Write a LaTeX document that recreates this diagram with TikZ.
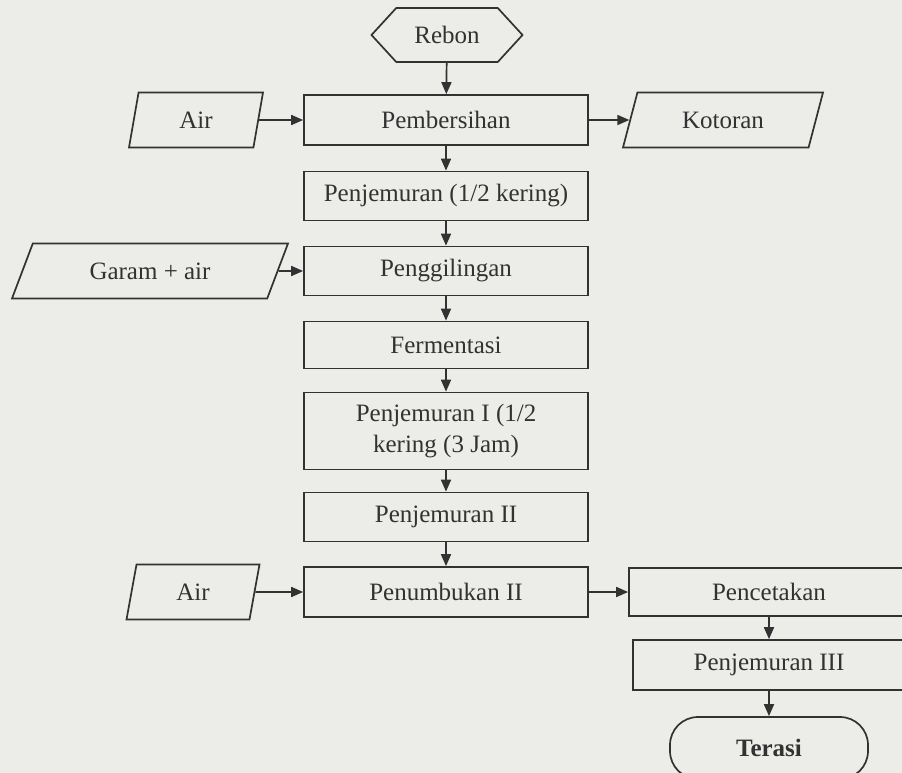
\documentclass[tikz,border=0pt]{standalone}
\usepackage{fontspec}
\setmainfont{Liberation Serif}
\usetikzlibrary{shapes.geometric,shapes.symbols,arrows.meta}
\definecolor{kertas}{RGB}{236,236,233}
\definecolor{tinta}{RGB}{50,50,50}
\tikzset{
  garis/.style={draw=tinta,line width=1.7pt},
  kotak/.style={garis,minimum width=284pt,minimum height=#1,inner sep=2pt,align=center},
  kotak/.default=49pt,
  jajar/.style={garis,trapezium,trapezium stretches body,minimum height=55pt,inner sep=2pt},
  hexa/.style={garis,signal,signal to=west and east,signal pointer angle=95,minimum width=151pt,minimum height=54pt,inner sep=2pt},
  ujung/.style={garis,rounded corners=28pt,minimum width=198pt,minimum height=62pt,font=\fontsize{25}{31}\selectfont\bfseries}
}
\begin{document}
\begin{tikzpicture}[x=1pt,y=-1pt,>={Triangle[length=12pt,width=10pt]},
  every node/.style={text=tinta,font=\fontsize{25}{31}\selectfont}]
	\fill[kertas] (0,0) rectangle (902,773);
	\clip (0,0) rectangle (902,773);
	%Bahan baku
	\node[hexa] (rebon) at (447,35) {Rebon};
	%Proses utama
	\node[kotak=50pt] (bersih) at (446,120) {Pembersihan};
	\node[kotak] (jemur) at (446,196) {Penjemuran (1/2 kering)};
	\node[kotak] (giling) at (446,271) {Penggilingan};
	\node[kotak=47pt] (fermen) at (446,345) {Fermentasi};
	\node[kotak=77pt] (jemurI) at (446,431) {Penjemuran I (1/2\\kering (3 Jam)};
	\node[kotak] (jemurII) at (446,517) {Penjemuran II};
	\node[kotak=50pt] (tumbuk) at (446,592) {Penumbukan II};
	%Masukan dan keluaran
	\node[jajar,minimum width=134pt,trapezium left angle=65,trapezium right angle=115] (air) at (196,120) {Air};
	\node[jajar,minimum width=200pt,trapezium left angle=55,trapezium right angle=125] (kotoran) at (723,120) {Kotoran};
	\node[jajar,minimum width=276pt,trapezium left angle=45,trapezium right angle=135] (garam) at (150,271) {Garam + air};
	\node[jajar,minimum width=133pt,trapezium left angle=64,trapezium right angle=116] (airII) at (193,592) {Air};
	%Cabang kanan
	\node[kotak=48pt,minimum width=280pt] (cetak) at (769,592) {Pencetakan};
	\node[kotak=50pt,minimum width=272pt] (jemurIII) at (769,665) {Penjemuran III};
	\node[ujung] (terasi) at (769,748) {Terasi};
	%Panah
	\draw[garis,->] (rebon) -- (bersih);
	\draw[garis,->] (bersih) -- (jemur);
	\draw[garis,->] (jemur) -- (giling);
	\draw[garis,->] (giling) -- (fermen);
	\draw[garis,->] (fermen) -- (jemurI);
	\draw[garis,->] (jemurI) -- (jemurII);
	\draw[garis,->] (jemurII) -- (tumbuk);
	\draw[garis,->] (air) -- (bersih);
	\draw[garis,->] (bersih) -- (kotoran);
	\draw[garis,->] (garam) -- (giling);
	\draw[garis,->] (airII) -- (tumbuk);
	\draw[garis,->] (tumbuk) -- (cetak);
	\draw[garis,->] (cetak) -- (jemurIII);
	\draw[garis,->] (jemurIII) -- (terasi);
\end{tikzpicture}
\end{document}
